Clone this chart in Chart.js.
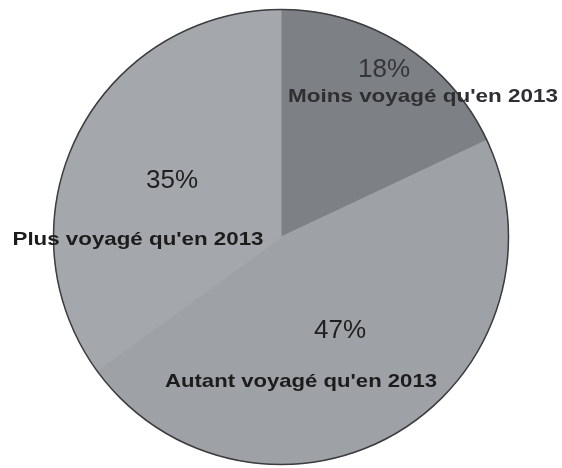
<!DOCTYPE html>
<html>
<head>
<meta charset="utf-8">
<script src="https://cdn.jsdelivr.net/npm/chart.js@4.4.0/dist/chart.umd.min.js"></script>
<style>
    html, body { margin: 0; padding: 0; background: #fff; }
    #wrap { width: 562px; height: 468px; }
</style>
</head>
<body>
<div id="wrap"><canvas id="myChart"></canvas></div>
<script>
const categories = ["Moins voyagé qu'en 2013", "Autant voyagé qu'en 2013", "Plus voyagé qu'en 2013"];
const values = [18, 47, 35];
const sliceColors = ["#7d8085", "#9ea1a5", "#a4a7ac"];

// label placement, relative to pie centre: [pctDx, pctDy, nameDx, nameDy, nameWidth]
const labelPlaces = [
    [103, -160, 142, -135, 270],
    [59, 101, 20, 150, 272],
    [-109, -49, -143, 8, 251]
];

const labelPlugin = {
    id: 'labels',
    afterDatasetsDraw(chart) {
        const ctx = chart.ctx;
        const arc = chart.getDatasetMeta(0).data[0];
        const cx = arc.x, cy = arc.y, r = arc.outerRadius;

        // thin dark outline round the pie
        ctx.save();
        ctx.beginPath();
        ctx.arc(cx, cy, r, 0, Math.PI * 2);
        ctx.strokeStyle = "#3c3d40";
        ctx.lineWidth = 1.5;
        ctx.stroke();

        ctx.textAlign = "center";
        ctx.textBaseline = "alphabetic";
        values.forEach((v, i) => {
            const p = labelPlaces[i];
            ctx.fillStyle = i === 0 ? "#35363a" : "#1f1f1f";
            ctx.font = "26px 'Liberation Sans', Arial, sans-serif";
            ctx.fillText(v + "%", cx + p[0], cy + p[1]);

            ctx.font = "bold 19px 'Liberation Sans', Arial, sans-serif";
            const w = ctx.measureText(categories[i]).width;
            const sx = p[4] / w;
            ctx.save();
            ctx.translate(cx + p[2], cy + p[3]);
            ctx.scale(sx, 1);
            ctx.fillStyle = i === 0 ? "#2e2f31" : "#1c1c1c";
            ctx.fillText(categories[i], 0, 0);
            ctx.restore();
        });
        ctx.restore();
    }
};

new Chart(document.getElementById('myChart'), {
    type: 'pie',
    data: {
        labels: categories,
        datasets: [{
            data: values,
            backgroundColor: sliceColors,
            borderColor: sliceColors,
            borderWidth: 1
        }]
    },
    options: {
        responsive: true,
        maintainAspectRatio: false,
        animation: false,
        layout: { padding: { top: 9, bottom: 3 } },
        plugins: {
            legend: { display: false },
            tooltip: { enabled: false }
        }
    },
    plugins: [labelPlugin]
});
</script>
</body>
</html>
